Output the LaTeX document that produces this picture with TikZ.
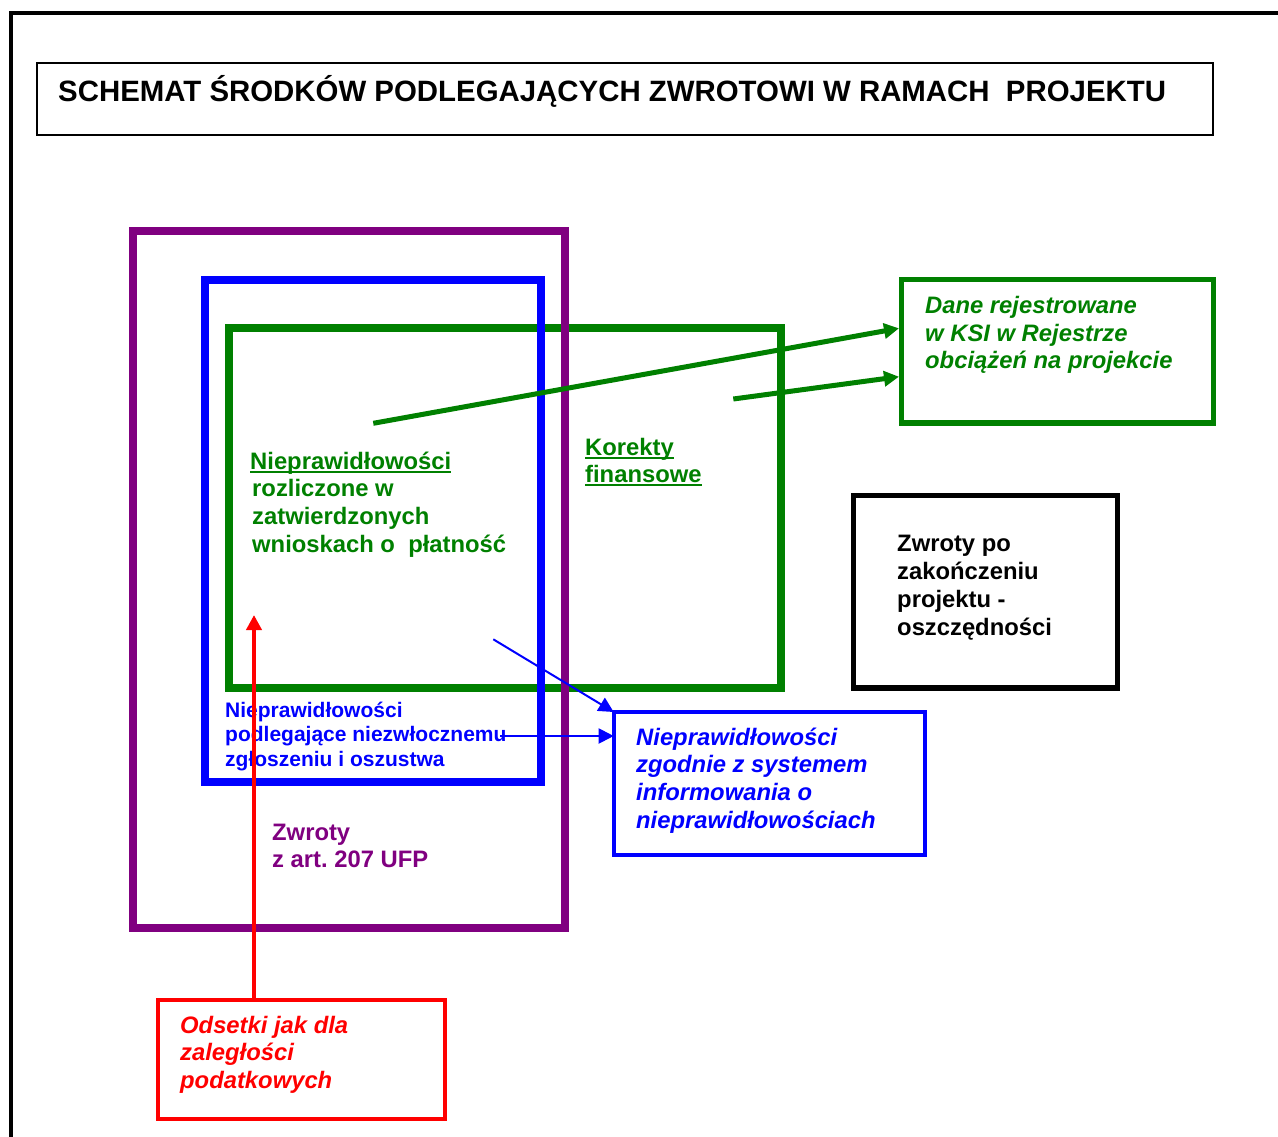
\documentclass[tikz,border=0pt]{standalone}
\usepackage{fontspec}
\setmainfont{Liberation Sans}
\usetikzlibrary{arrows.meta}
\definecolor{zielony}{RGB}{0,128,0}
\definecolor{niebieski}{RGB}{0,0,255}
\definecolor{fiolet}{RGB}{128,0,128}
\definecolor{czerwony}{RGB}{255,0,0}
\newcommand{\podkr}[1]{\setbox0\hbox{#1}\rlap{\rule[-3.5pt]{\wd0}{2pt}}\box0}

\begin{document}
\begin{tikzpicture}[x=1pt,y=-1pt]

    \tikzset{
      ramka/.style={
        draw,
        inner sep=0pt,
        outer sep=0pt,
        anchor=north west,
      },
      opis/.style={
        anchor=base west,
        align=left,
        inner sep=0pt,
        font=\fontsize{23.8}{27.8}\selectfont\bfseries,
      },
      opiskursywa/.style={
        opis,
        font=\fontsize{23.8}{27.8}\selectfont\bfseries\itshape,
      },
      opismaly/.style={
        opis,
        font=\fontsize{21}{24.4}\selectfont\bfseries,
      },
      strzalka/.style={
        -{Triangle[length=15pt,width=15pt]},
      },
    }
    \useasboundingbox (0,0) rectangle (1278,1137);

	\draw[line width=4] (11.3,1145)--(11.3,13)--(1285,13);
	\node[ramka,line width=2,minimum width=1176pt,minimum height=71.5pt] (tytul) at (37.3,63.3) {};
	\node[opis,font=\fontsize{29.4}{34}\selectfont\bfseries] (tytultekst) at (58,102) {SCHEMAT ŚRODKÓW PODLEGAJĄCYCH ZWROTOWI W RAMACH\ \ PROJEKTU};

	\node[ramka,draw=zielony,line width=8,minimum width=552pt,minimum height=360.5pt] (korekty) at (229,327.5) {};
	\node[ramka,draw=niebieski,line width=8,minimum width=336pt,minimum height=502.3pt] (zgloszenie) at (205,279.7) {};
	\node[ramka,draw=fiolet,line width=8,minimum width=432pt,minimum height=697pt] (zwroty) at (133,231) {};
	\node[ramka,draw=zielony,line width=5.5,minimum width=312pt,minimum height=143.3pt] (rejestr) at (901.5,279.7) {};
	\node[ramka,draw=black,line width=5.3,minimum width=264.2pt,minimum height=192.5pt] (oszczednosci) at (853.3,495.5) {};
	\node[ramka,draw=niebieski,line width=4,minimum width=311.6pt,minimum height=143.3pt] (system) at (613.7,712) {};
	\node[ramka,draw=czerwony,line width=4,minimum width=287.2pt,minimum height=119.2pt] (odsetki) at (157.8,999.8) {};

	% base = linia bazowa ostatniego wiersza
	\node[opis,text=zielony] (rozliczone) at (250,552.4) {\podkr{Nieprawidłowości}\\ \hspace{2pt}rozliczone w\\ \hspace{2pt}zatwierdzonych\\ \hspace{2pt}wnioskach o\ \ płatność};
	\node[opis,text=zielony] (korektytekst) at (585,482.8) {\podkr{Korekty}\\\podkr{finansowe}};
	\node[opiskursywa,text=zielony] (rejestrtekst) at (925,368.9) {Dane rejestrowane\\w KSI w Rejestrze\\obciążeń na projekcie};
	\node[opis,text=black] (oszczednoscitekst) at (897,635.1) {Zwroty po\\zakończeniu\\projektu -\\oszczędności};
	\node[opiskursywa,text=niebieski] (systemtekst) at (636,828.4) {Nieprawidłowości\\zgodnie z systemem\\informowania o\\nieprawidłowościach};
	\node[opismaly,text=niebieski] (zgloszenietekst) at (225,766.1) {Nieprawidłowości\\podlegające niezwłocznemu\\zgłoszeniu i oszustwa};
	\node[opis,text=fiolet] (zwrotytekst) at (272,867.8) {Zwroty\\z art.\ 207 UFP};
	\node[opiskursywa,text=czerwony] (odsetkitekst) at (180,1088.6) {Odsetki jak dla\\zaległości\\podatkowych};

	\coordinate (nieprstart) at (373.3,423.3);
	\coordinate (korstart) at (733.3,399);
	\coordinate (rejestrA) at (899,328.3);
	\coordinate (rejestrB) at (899,376.7);
	\coordinate (zglstartA) at (493.3,639.3);
	\coordinate (zglstartB) at (500,736);
	\coordinate (odsetkikoniec) at (254,615);

	\draw[strzalka,color=zielony,line width=5] (nieprstart)--(rejestrA);
	\draw[strzalka,color=zielony,line width=5] (korstart)--(rejestrB);
	\draw[strzalka,color=niebieski,line width=2] (zglstartA)--(system.north west);
	\draw[strzalka,color=niebieski,line width=2] (zglstartB)--(system.west |- zglstartB);
	\draw[strzalka,color=czerwony,line width=4] (odsetki.north -| odsetkikoniec)--(odsetkikoniec);

\end{tikzpicture}
\end{document}
